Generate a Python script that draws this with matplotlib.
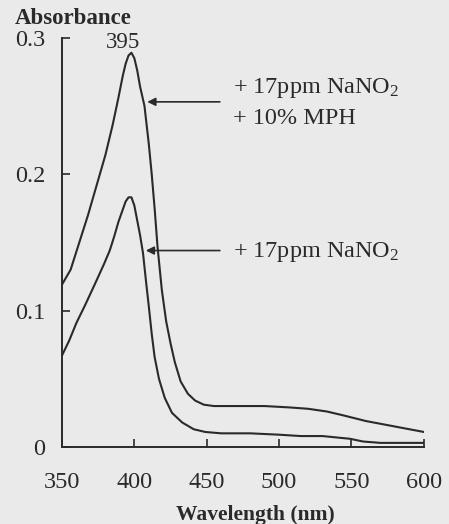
import matplotlib.pyplot as plt

plt.rcParams['font.family'] = ['Liberation Serif', 'DejaVu Serif']
plt.rcParams['mathtext.fontset'] = 'custom'
plt.rcParams['mathtext.rm'] = 'Liberation Serif'
plt.rcParams['mathtext.it'] = 'Liberation Serif:italic'
plt.rcParams['mathtext.bf'] = 'Liberation Serif:bold'

# Absorbance spectra
wl_mph = [350, 356, 362, 368, 374, 380, 385, 389, 392, 394, 396, 398, 400, 402, 404,
          407, 410, 412, 414, 416, 419, 422, 425, 428, 432, 437, 442, 448, 455, 470,
          490, 507, 520, 533, 545, 560, 575, 590, 600]
abs_mph = [0.119, 0.130, 0.150, 0.170, 0.192, 0.214, 0.236, 0.256, 0.272, 0.281, 0.287,
           0.289, 0.285, 0.276, 0.264, 0.250, 0.222, 0.200, 0.175, 0.147, 0.115, 0.092,
           0.076, 0.062, 0.048, 0.039, 0.034, 0.031, 0.030, 0.030, 0.030, 0.029, 0.028,
           0.026, 0.023, 0.019, 0.016, 0.013, 0.011]

wl_nit = [350, 355, 360, 366, 373, 379, 383, 386, 389, 392, 394, 396, 398, 400, 402,
          404, 406, 408, 410, 412, 414, 417, 421, 426, 433, 441, 449, 460, 480, 500,
          515, 530, 549, 558, 570, 600]
abs_nit = [0.067, 0.078, 0.091, 0.104, 0.120, 0.134, 0.144, 0.154, 0.165, 0.174, 0.180,
           0.183, 0.183, 0.177, 0.166, 0.155, 0.142, 0.122, 0.103, 0.083, 0.066, 0.050,
           0.036, 0.025, 0.018, 0.013, 0.011, 0.010, 0.010, 0.009, 0.008, 0.008, 0.006,
           0.004, 0.003, 0.003]

xticks = [350, 400, 450, 500, 550, 600]
yticks = [0, 0.1, 0.2, 0.3]
ytick_labels = ['0', '0.1', '0.2', '0.3']

ink = '#2a2a2a'
bg = '#eaeaea'
fs = 17.5

fig = plt.figure(figsize=(4.49, 5.24), dpi=100, facecolor=bg)
ax = fig.add_axes([0.138, 0.147, 0.806, 0.781])
ax.set_facecolor(bg)

ax.plot(wl_mph, abs_mph, color=ink, lw=1.5)
ax.plot(wl_nit, abs_nit, color=ink, lw=1.5)

ax.set_xlim(350, 600)
ax.set_ylim(0, 0.3)
ax.set_xticks(xticks)
ax.set_yticks(yticks)
ax.set_yticklabels(ytick_labels)
for s in ['top', 'right']:
    ax.spines[s].set_visible(False)
for s in ['left', 'bottom']:
    ax.spines[s].set_color(ink)
    ax.spines[s].set_linewidth(1.4)
ax.tick_params(axis='both', direction='in', length=6, width=1.2, color=ink,
               labelsize=fs, labelcolor=ink)
ax.tick_params(axis='x', pad=18)
ax.tick_params(axis='y', pad=12)

# peak label
ax.text(392, 0.2965, '395', ha='center', va='center', fontsize=16.5, color=ink,
        clip_on=False)

# arrows + labels
arr = dict(arrowstyle='-|>', color=ink, lw=1.2, mutation_scale=12)
ax.annotate('', xy=(407, 0.253), xytext=(461, 0.253), arrowprops=arr)
ax.annotate('', xy=(406, 0.144), xytext=(461, 0.144), arrowprops=arr)
ax.text(468, 0.263, '+ 17ppm NaNO$_2$', fontsize=fs, va='center', color=ink)
ax.text(468, 0.241, '+ 10% MPH', fontsize=fs, va='center', color=ink)
ax.text(468, 0.143, '+ 17ppm NaNO$_2$', fontsize=fs, va='center', color=ink)

fig.text(15 / 449, 1 - 24 / 524, 'Absorbance', fontsize=16.5, fontweight='bold',
         va='baseline', ha='left', color=ink)
fig.text(255 / 449, 1 - 515 / 524, 'Wavelength (nm)', fontsize=15.5, fontweight='bold',
         va='center', ha='center', color=ink)

fig.savefig('out.png', dpi=100, facecolor=bg)
